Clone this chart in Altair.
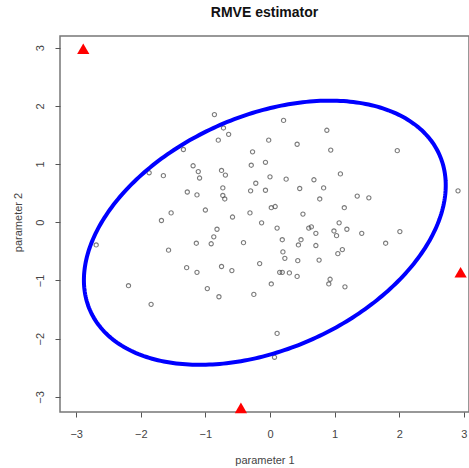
import altair as alt
import pandas as pd
import numpy as np

# ---- data ----
p1 = [-0.86, -0.72, -0.64, -0.80, -0.02, -1.34, -0.27, -0.07, -0.29, -1.19,
      -1.11, -0.75, -0.69, -1.87, -1.65, -1.09, 0.00, -0.22, -0.73, -0.30,
      -0.07, -1.28, -1.13, -0.73, -0.70, -1.00, 0.02, 0.08, -1.53, -0.31,
      -0.58, -1.68, -0.13, 0.11, 0.21, 0.88, 0.42, 0.94, 1.97, 1.09,
      0.25, 0.68, 0.46, 0.83, 0.77, 1.35, 1.53, 1.15, 0.51, 1.07,
      0.60, 0.64, 1.19, 2.91, 0.71, 0.99, 1.42, 2.01, 1.03, 0.19,
      0.48, 0.44, 0.71, 1.79, 0.20, 1.12, 1.05, 0.23, 0.43, 0.76,
      0.15, 0.19, 0.30, 0.42, 0.93, 0.91, 0.02, 1.16, 0.11, 0.07,
      -0.82, -0.87, -1.14, -0.91, -0.41, -1.57, -0.16, -1.29, -1.13, -0.75,
      -0.59, -2.19, -0.97, -0.79, -0.25, -1.84, -2.69]
p2 = [1.85, 1.62, 1.51, 1.41, 1.41, 1.25, 1.21, 1.03, 0.98, 0.97,
      0.87, 0.89, 0.81, 0.85, 0.80, 0.76, 0.78, 0.67, 0.59, 0.54,
      0.55, 0.52, 0.47, 0.46, 0.40, 0.21, 0.25, 0.27, 0.16, 0.16,
      0.09, 0.03, -0.01, -0.10, 1.75, 1.58, 1.34, 1.24, 1.23, 0.83,
      0.74, 0.73, 0.58, 0.59, 0.40, 0.45, 0.42, 0.25, 0.14, -0.01,
      -0.10, -0.08, -0.12, 0.54, -0.19, -0.15, -0.19, -0.16, -0.23, -0.30,
      -0.30, -0.39, -0.40, -0.36, -0.51, -0.47, -0.54, -0.62, -0.66, -0.65,
      -0.86, -0.86, -0.87, -0.93, -0.98, -1.06, -1.06, -1.11, -1.91, -2.32,
      -0.12, -0.25, -0.36, -0.37, -0.35, -0.48, -0.71, -0.78, -0.86, -0.76,
      -0.83, -1.09, -1.14, -1.28, -1.24, -1.41, -0.39]

outlier_p1 = [-2.89, 2.95, -0.45]
outlier_p2 = [2.98, -0.86, -3.19]

# RMVE ellipse: centre and scatter matrix
ellipse_center = [-0.08, -0.18]
ellipse_cov = [[7.84, 2.28], [2.28, 5.15]]

tick_values = [-3, -2, -1, 0, 1, 2, 3]
x_domain = [-3.25, 3.08]
y_domain = [-3.26, 3.20]

FONT = "Liberation Sans"

L = np.linalg.cholesky(np.array(ellipse_cov))
l11, l21, l22 = float(L[0, 0]), float(L[1, 0]), float(L[1, 1])
cx, cy = ellipse_center

pts = pd.DataFrame({"p1": p1, "p2": p2})
outl = pd.DataFrame({"p1": outlier_p1, "p2": outlier_p2})

xs = alt.Scale(domain=x_domain, nice=False, zero=False)
ys = alt.Scale(domain=y_domain, nice=False, zero=False)

xaxis = alt.Axis(values=tick_values, title="parameter 1", grid=False, domain=False,
                 tickSize=5, tickColor="#555", tickWidth=1,
                 labelColor="#444", labelFont=FONT, labelFontSize=11, labelPadding=11,
                 titleFont=FONT, titleFontSize=11, titleFontWeight="normal",
                 titleColor="#444", titlePadding=15, format="d")
yaxis = alt.Axis(values=tick_values, title="parameter 2", grid=False, domain=False,
                 tickSize=5, tickColor="#555", tickWidth=1,
                 labelColor="#444", labelFont=FONT, labelFontSize=11, labelPadding=10,
                 labelAngle=270, labelAlign="center", labelBaseline="bottom",
                 titleFont=FONT, titleFontSize=11, titleFontWeight="normal",
                 titleColor="#444", titleX=-42, titleY=186, titleAngle=270,
                 titleAlign="center", titleBaseline="middle", format="d")

points = alt.Chart(pts).mark_point(
    shape="circle", filled=False, size=18, color="#444", strokeWidth=1.1
).encode(
    x=alt.X("p1:Q", scale=xs, axis=xaxis),
    y=alt.Y("p2:Q", scale=ys, axis=yaxis),
)

ellipse = alt.Chart(alt.sequence(0, 6.33, 0.02, as_="t")).transform_calculate(
    ex=f"{cx} + {l11} * cos(datum.t)",
    ey=f"{cy} + {l21} * cos(datum.t) + {l22} * sin(datum.t)",
).mark_line(color="#0000ff", strokeWidth=4).encode(
    x=alt.X("ex:Q", scale=xs),
    y=alt.Y("ey:Q", scale=ys),
    order="t:Q",
)

outliers = alt.Chart(outl).mark_point(
    shape="triangle-up", filled=True, color="#ff0000", size=150, opacity=1
).encode(
    x=alt.X("p1:Q", scale=xs),
    y=alt.Y("p2:Q", scale=ys),
)

chart = alt.layer(points, ellipse, outliers).properties(
    width=409,
    height=376,
    title=alt.TitleParams("RMVE estimator", font=FONT, fontSize=14, fontWeight="bold",
                          color="#111", anchor="middle", baseline="alphabetic", offset=5),
    autosize=alt.AutoSizeParams(type="none"),
    padding={"left": 60, "top": 36, "right": 0, "bottom": 56},
    background="white",
).configure_view(stroke="#777", strokeWidth=1.5)

chart.save("out.html", embed_options={"renderer": "svg", "actions": False})
